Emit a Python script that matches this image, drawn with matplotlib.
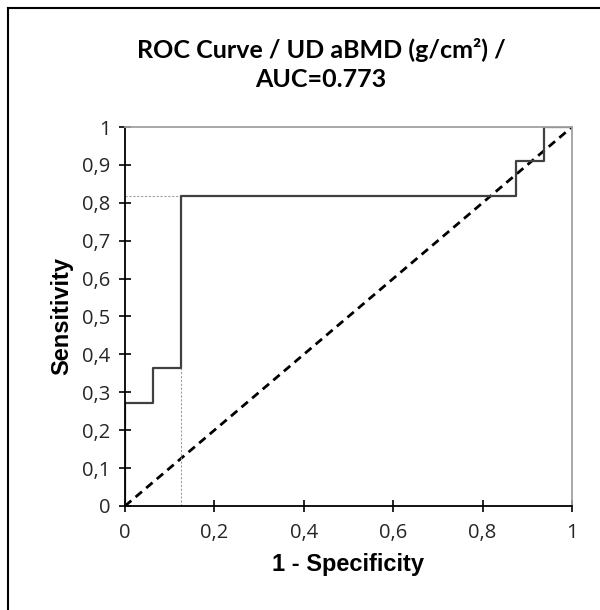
"""
ROC curve for UD aBMD, redrawn with matplotlib.
"""

import matplotlib
matplotlib.use("Agg")
import matplotlib.pyplot as plt
from matplotlib.lines import Line2D
from matplotlib.ticker import FuncFormatter, MultipleLocator

# ROC points (1 - specificity, sensitivity), drawn as a step curve
fpr = [0, 0, 0.0625, 0.125, 0.875, 0.9375, 1]
tpr = [0, 0.273, 0.364, 0.818, 0.909, 1, 1]

# optimal cut-off marker
cut_x = 0.125
cut_y = 0.818

title = "ROC Curve / UD aBMD (g/cm²) /\nAUC=0.773"


def comma(v, pos):
    s = "%g" % round(v, 2)
    return s.replace(".", ",")


fig = plt.figure(figsize=(6, 6.1), dpi=100)
ax = fig.add_axes([0.2083, 0.1705, 0.745, 0.6213])

# figure frame (only left and top edges are visible)
fig.add_artist(Line2D([0.0133, 0.0133], [0, 0.987], transform=fig.transFigure,
                      color="black", lw=1.5))
fig.add_artist(Line2D([0.0133, 1], [0.987, 0.987], transform=fig.transFigure,
                      color="black", lw=1.5))

ax.plot([0, 1], [0, 1], color="black", lw=2, ls=(0, (3, 2)))
ax.plot([0, cut_x], [cut_y, cut_y], color="#a0a0a0", lw=0.8, ls=(0, (2, 1.5)))
ax.plot([cut_x, cut_x], [0, cut_y], color="#a0a0a0", lw=0.8, ls=(0, (2, 1.5)))
ax.plot(fpr, tpr, color="#404040", lw=1.6, drawstyle="steps-post")

ax.set_xlim(0, 1)
ax.set_ylim(0, 1)
ax.xaxis.set_major_locator(MultipleLocator(0.2))
ax.yaxis.set_major_locator(MultipleLocator(0.1))
ax.xaxis.set_major_formatter(FuncFormatter(comma))
ax.yaxis.set_major_formatter(FuncFormatter(comma))

for side in ["left", "bottom"]:
    ax.spines[side].set_color("black")
    ax.spines[side].set_linewidth(1.3)
for side in ["top", "right"]:
    ax.spines[side].set_color("#a0a0a0")
    ax.spines[side].set_linewidth(1.3)

ax.tick_params(direction="inout", length=9, width=1.2, color="black",
               labelcolor="#262626", labelsize=14.5,
               labelfontfamily="Open Sans")
ax.tick_params(axis="x", pad=8)
ax.tick_params(axis="y", pad=6)

ax.set_xlabel("1 - Specificity", family="Liberation Sans", fontweight="bold",
              fontsize=17, labelpad=7)
ax.set_ylabel("Sensitivity", family="Liberation Sans", fontweight="bold",
              fontsize=17, labelpad=6)

fig.text(0.535, 0.894, title, ha="center", va="center", family="Lato",
         fontweight="bold", fontsize=18, linespacing=1.3)

fig.savefig("out.png", dpi=100)
